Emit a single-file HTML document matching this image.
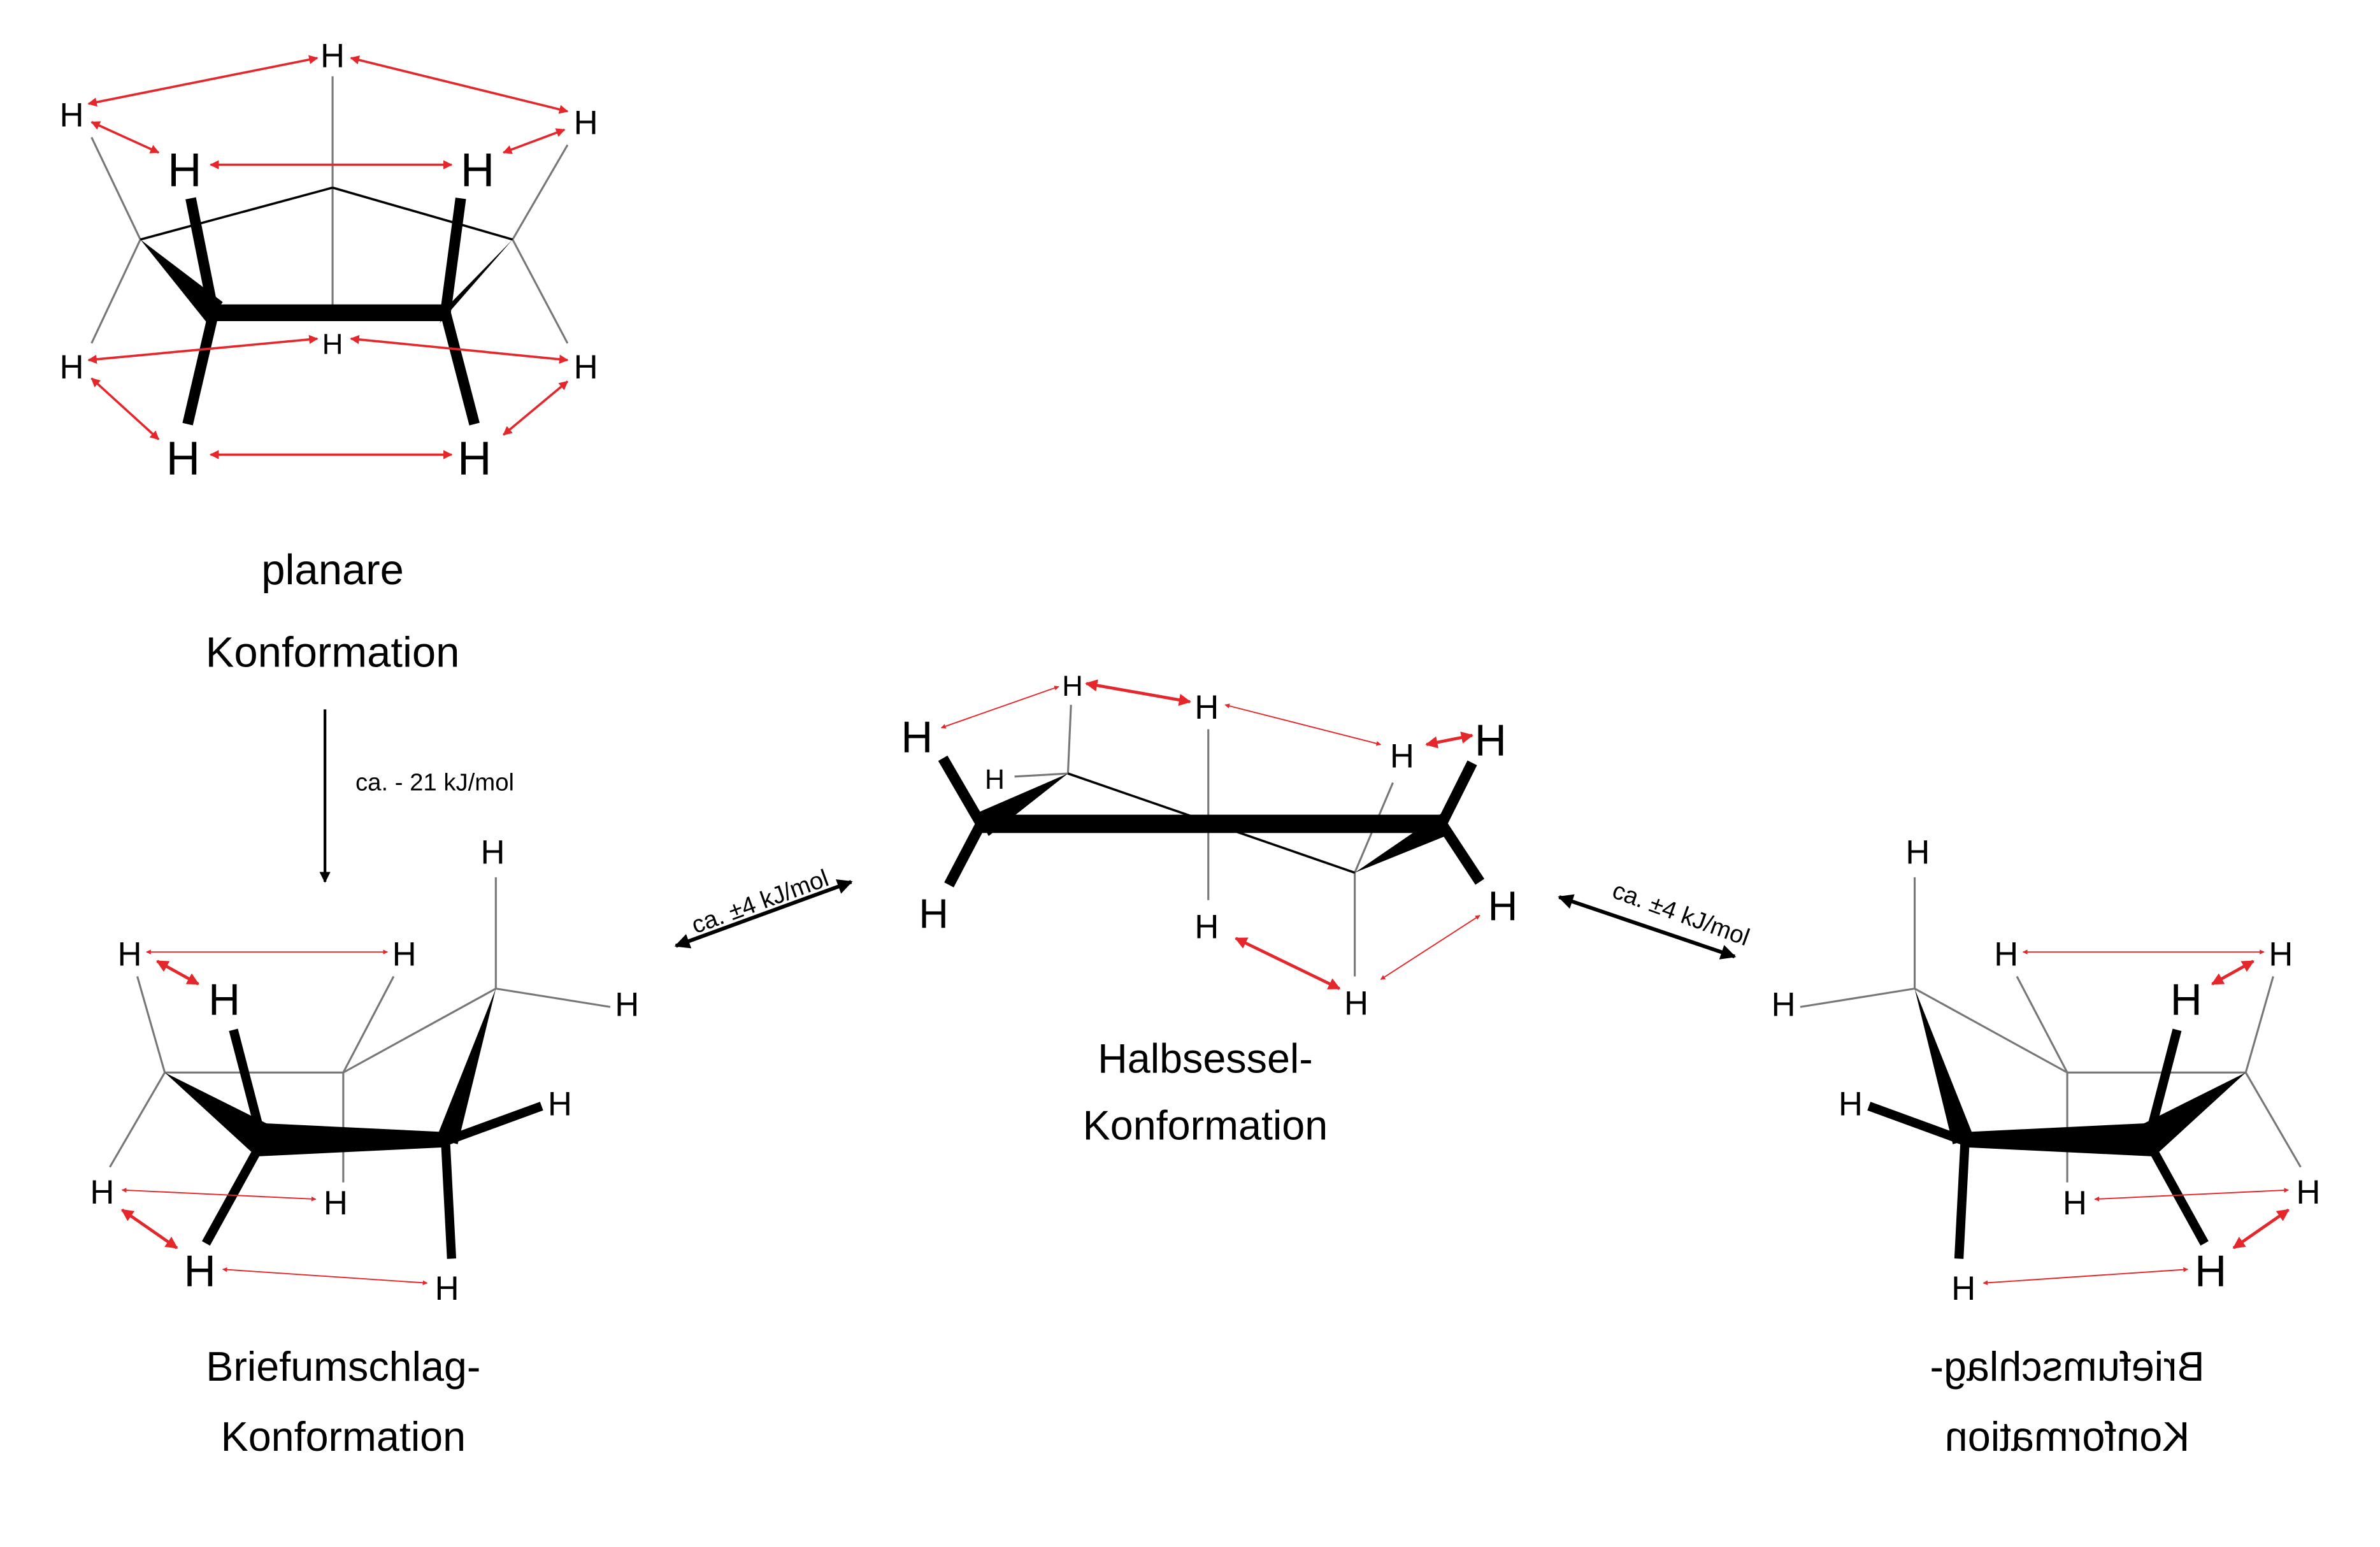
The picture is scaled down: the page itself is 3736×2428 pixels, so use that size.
<!DOCTYPE html>
<html><head><meta charset="utf-8"><style>
html,body{margin:0;padding:0;background:#fff;}
svg{display:block;}
text{font-family:"Liberation Sans",sans-serif;fill:#000;}
</style></head><body>
<svg width="3736" height="2428" viewBox="0 0 1560 1014" preserveAspectRatio="none" xmlns="http://www.w3.org/2000/svg">
<defs>
<marker id="r" viewBox="0 0 10 10" refX="9" refY="5" markerWidth="4" markerHeight="4" orient="auto-start-reverse"><path d="M0,0L10,5L0,10z" fill="#e5262b"/></marker>
<marker id="k" viewBox="0 0 10 10" refX="9" refY="5" markerWidth="4" markerHeight="4" orient="auto-start-reverse"><path d="M0,0L10,5L0,10z" fill="#000"/></marker>
<g id="env">
  <g stroke="#777" stroke-width="1.3" fill="none">
    <line x1="90" y1="640" x2="108" y2="703"/>
    <line x1="258" y1="640" x2="225" y2="703"/>
    <line x1="325" y1="575" x2="325" y2="648"/>
    <line x1="325" y1="648" x2="400" y2="660"/>
    <line x1="108" y1="703" x2="72" y2="765"/>
    <line x1="225" y1="703" x2="225" y2="775"/>
    <line x1="108" y1="703" x2="225" y2="703"/>
    <line x1="225" y1="703" x2="325" y2="648"/>
  </g>
  <polygon points="108,703 178,738 168,758" fill="#000"/>
  <polygon points="168,736 292,742 292,752 168,758" fill="#000"/>
  <polygon points="325,648 286,746 300,750" fill="#000"/>
  <g stroke="#000" stroke-width="6" stroke-linecap="butt">
    <line x1="292" y1="748" x2="355" y2="725"/>
    <line x1="172" y1="748" x2="153" y2="675"/>
    <line x1="172" y1="748" x2="135" y2="815"/>
    <line x1="292" y1="748" x2="296" y2="825"/>
  </g>
  <g font-size="22" text-anchor="middle">
    <text x="85" y="633">H</text><text x="265" y="633">H</text>
    <text x="323" y="566">H</text><text x="411" y="666">H</text>
    <text x="367" y="731">H</text><text x="67" y="789">H</text>
    <text x="220" y="796">H</text><text x="293" y="852">H</text>
    <text x="147" y="665" font-size="29">H</text>
    <text x="131" y="843" font-size="29">H</text>
    <text x="225" y="905" font-size="27">Briefumschlag-</text>
    <text x="225" y="951" font-size="27">Konformation</text>
  </g>
  <g stroke="#e5262b" fill="none">
    <line x1="96" y1="624" x2="254" y2="624" stroke-width="0.8" marker-start="url(#r)" marker-end="url(#r)"/>
    <line x1="103" y1="630" x2="130" y2="645" stroke-width="2" marker-start="url(#r)" marker-end="url(#r)"/>
    <line x1="80" y1="780" x2="207" y2="786" stroke-width="0.8" marker-start="url(#r)" marker-end="url(#r)"/>
    <line x1="80" y1="793" x2="116" y2="818" stroke-width="2" marker-start="url(#r)" marker-end="url(#r)"/>
    <line x1="146" y1="832" x2="280" y2="841" stroke-width="0.8" marker-start="url(#r)" marker-end="url(#r)"/>
  </g>
</g>
</defs>

<g stroke="#777" stroke-width="1.3">
  <line x1="218" y1="50" x2="218" y2="123"/>
  <line x1="218" y1="123" x2="218" y2="205"/>
  <line x1="92" y1="157" x2="60" y2="90"/>
  <line x1="92" y1="157" x2="60" y2="225"/>
  <line x1="336" y1="157" x2="372" y2="95"/>
  <line x1="336" y1="157" x2="372" y2="225"/>
</g>
<g stroke="#000" stroke-width="1.5">
  <line x1="218" y1="123" x2="92" y2="157"/>
  <line x1="218" y1="123" x2="336" y2="157"/>
</g>
<polygon points="92,157 146,198 136,212" fill="#000"/>
<polygon points="336,157 288,212 296,198" fill="#000"/>
<line x1="140" y1="205" x2="292" y2="205" stroke="#000" stroke-width="11"/>
<g stroke="#000" stroke-width="7">
  <line x1="140" y1="205" x2="125" y2="130"/>
  <line x1="140" y1="205" x2="123" y2="278"/>
  <line x1="292" y1="205" x2="302" y2="130"/>
  <line x1="292" y1="205" x2="311" y2="278"/>
</g>
<g font-size="22" text-anchor="middle">
  <text x="218" y="44">H</text><text x="47" y="83">H</text><text x="384" y="88">H</text>
  <text x="47" y="248">H</text><text x="218" y="232" font-size="19">H</text><text x="384" y="248">H</text>
  <text x="121" y="122" font-size="31">H</text><text x="313" y="122" font-size="31">H</text>
  <text x="120" y="311" font-size="31">H</text><text x="311" y="311" font-size="31">H</text>
  <text x="218" y="383" font-size="28">planare</text>
  <text x="218" y="437" font-size="28">Konformation</text>
</g>
<g stroke="#e5262b" stroke-width="1.5" fill="none">
  <line x1="58" y1="68" x2="208" y2="38" marker-start="url(#r)" marker-end="url(#r)"/>
  <line x1="230" y1="38" x2="372" y2="73" marker-start="url(#r)" marker-end="url(#r)"/>
  <line x1="138" y1="108" x2="296" y2="108" marker-start="url(#r)" marker-end="url(#r)"/>
  <line x1="60" y1="80" x2="104" y2="100" marker-start="url(#r)" marker-end="url(#r)"/>
  <line x1="330" y1="100" x2="370" y2="85" marker-start="url(#r)" marker-end="url(#r)"/>
  <line x1="58" y1="236" x2="208" y2="222" marker-start="url(#r)" marker-end="url(#r)"/>
  <line x1="230" y1="222" x2="372" y2="236" marker-start="url(#r)" marker-end="url(#r)"/>
  <line x1="60" y1="248" x2="104" y2="288" marker-start="url(#r)" marker-end="url(#r)"/>
  <line x1="330" y1="285" x2="372" y2="250" marker-start="url(#r)" marker-end="url(#r)"/>
  <line x1="138" y1="298" x2="296" y2="298" marker-start="url(#r)" marker-end="url(#r)"/>
</g>

<line x1="213" y1="465" x2="213" y2="578" stroke="#000" stroke-width="1.8" marker-end="url(#k)"/>
<text x="233" y="518" font-size="16">ca. - 21 kJ/mol</text>

<use href="#env"/>
<use href="#env" transform="translate(1580,0) scale(-1,1)"/>

<line x1="443" y1="620" x2="558" y2="578" stroke="#000" stroke-width="2.5" marker-start="url(#k)" marker-end="url(#k)"/>
<text x="500" y="596" font-size="16" text-anchor="middle" transform="rotate(-20 500 596)">ca. ±4 kJ/mol</text>
<line x1="1022" y1="588" x2="1137" y2="627" stroke="#000" stroke-width="2.5" marker-start="url(#k)" marker-end="url(#k)"/>
<text x="1100" y="604" font-size="16" text-anchor="middle" transform="rotate(20 1100 604)">ca. ±4 kJ/mol</text>

<g stroke="#777" stroke-width="1.3">
  <line x1="792" y1="478" x2="792" y2="590"/>
  <line x1="700" y1="507" x2="702" y2="462"/>
  <line x1="888" y1="572" x2="913" y2="513"/>
  <line x1="888" y1="572" x2="888" y2="640"/>
  <line x1="700" y1="507" x2="665" y2="509"/>
</g>
<line x1="700" y1="507" x2="888" y2="572" stroke="#000" stroke-width="1.5"/>
<polygon points="640,533 700,507 648,548" fill="#000"/>
<line x1="643" y1="540" x2="945" y2="540" stroke="#000" stroke-width="12"/>
<polygon points="945,533 888,572 950,547" fill="#000"/>
<g stroke="#000" stroke-width="7">
  <line x1="643" y1="540" x2="618" y2="497"/>
  <line x1="643" y1="540" x2="622" y2="580"/>
  <line x1="945" y1="540" x2="965" y2="500"/>
  <line x1="945" y1="540" x2="970" y2="578"/>
</g>
<g font-size="22" text-anchor="middle">
  <text x="601" y="493" font-size="29">H</text><text x="703" y="456" font-size="19">H</text>
  <text x="652" y="517" font-size="18">H</text><text x="791" y="471">H</text>
  <text x="919" y="503">H</text><text x="977" y="495" font-size="29">H</text>
  <text x="612" y="608" font-size="27">H</text><text x="791" y="615">H</text>
  <text x="985" y="603" font-size="27">H</text><text x="889" y="665">H</text>
  <text x="790" y="703" font-size="27">Halbsessel-</text>
  <text x="790" y="747" font-size="27">Konformation</text>
</g>
<g stroke="#e5262b" fill="none">
  <line x1="617" y1="477" x2="694" y2="450" stroke-width="0.8" marker-start="url(#r)" marker-end="url(#r)"/>
  <line x1="712" y1="448" x2="780" y2="460" stroke-width="2" marker-start="url(#r)" marker-end="url(#r)"/>
  <line x1="803" y1="462" x2="905" y2="488" stroke-width="0.8" marker-start="url(#r)" marker-end="url(#r)"/>
  <line x1="935" y1="488" x2="965" y2="482" stroke-width="2" marker-start="url(#r)" marker-end="url(#r)"/>
  <line x1="810" y1="615" x2="878" y2="648" stroke-width="2" marker-start="url(#r)" marker-end="url(#r)"/>
  <line x1="905" y1="642" x2="970" y2="600" stroke-width="0.8" marker-start="url(#r)" marker-end="url(#r)"/>
</g>
</svg>
</body></html>
